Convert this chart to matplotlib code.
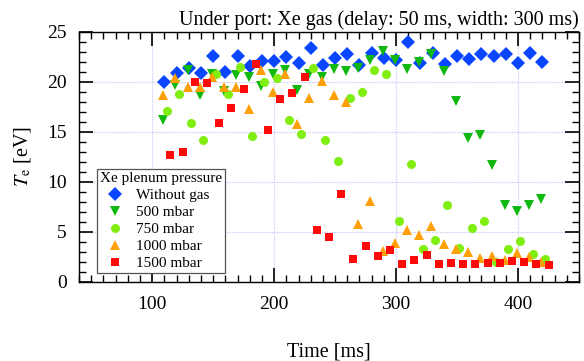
import matplotlib
matplotlib.use("Agg")
import matplotlib.pyplot as plt
from matplotlib.ticker import MultipleLocator

plt.rcParams['font.family'] = ['Liberation Serif', 'DejaVu Serif']
plt.rcParams['mathtext.fontset'] = 'stix'

title = "Under port: Xe gas (delay: 50 ms, width: 300 ms)"
legend_title = "Xe plenum pressure"
labels = ["Without gas", "500 mbar", "750 mbar", "1000 mbar", "1500 mbar"]

t_without = [110, 120, 130, 140, 150, 160, 170, 180, 190, 200, 210, 220, 230, 240, 250, 260,
             270, 280, 290, 300, 310, 320, 330, 340, 350, 360, 370, 380, 390, 400, 410, 420]
te_without = [20.0, 20.9, 21.4, 20.9, 22.6, 21.0, 22.6, 21.6, 22.1, 22.1, 22.5, 21.9, 23.4, 21.7, 22.4, 22.8,
              21.7, 22.9, 22.4, 22.2, 24.0, 21.9, 22.9, 21.8, 22.6, 22.3, 22.8, 22.6, 22.8, 21.9, 22.9, 22.0]

t_500 = [109, 119, 129, 139, 149, 159, 169, 179, 189, 199, 209, 219, 229, 239, 249, 259,
         269, 279, 289, 299, 309, 319, 329, 339, 349, 359, 369, 379, 389, 399, 409, 419]
te_500 = [16.2, 19.7, 21.2, 18.7, 20.8, 19.1, 20.7, 20.5, 19.6, 20.8, 21.2, 19.2, 20.8, 20.5, 21.3, 21.1,
          21.4, 22.2, 23.1, 22.2, 21.3, 22.0, 22.8, 21.1, 18.1, 14.4, 14.7, 11.7, 7.7, 7.1, 7.7, 8.3]

t_750 = [112, 122, 132, 142, 152, 162, 172, 182, 192, 202, 212, 222, 232, 242, 252, 262,
         272, 282, 292, 302, 312, 322, 332, 342, 352, 362, 372, 382, 392, 402, 412, 422]
te_750 = [17.1, 18.8, 15.9, 14.2, 20.8, 18.8, 21.5, 14.6, 20.0, 20.4, 16.2, 14.8, 21.4, 14.2, 12.1, 18.4,
          19.0, 21.2, 20.8, 6.1, 11.8, 3.3, 4.2, 7.7, 3.4, 5.4, 6.1, 2.0, 3.3, 4.1, 2.8, 2.3]

t_1000 = [109, 119, 129, 139, 149, 159, 169, 179, 189, 199, 209, 219, 229, 239, 249, 259,
          269, 279, 289, 299, 309, 319, 329, 339, 349, 359, 369, 379, 389, 399, 409, 419]
te_1000 = [18.7, 20.4, 19.5, 19.5, 20.5, 19.5, 19.5, 17.3, 21.2, 19.0, 20.8, 15.8, 18.4, 20.1, 18.7, 18.0,
           5.8, 8.1, 3.1, 3.9, 5.2, 4.7, 5.6, 3.8, 3.3, 3.0, 2.4, 2.6, 2.2, 2.9, 2.5, 2.0]

t_1500 = [115, 125, 135, 145, 155, 165, 175, 185, 195, 205, 215, 225, 235, 245, 255, 265,
          275, 285, 295, 305, 315, 325, 335, 345, 355, 365, 375, 385, 395, 405, 415, 425]
te_1500 = [12.7, 13.0, 20.0, 19.9, 15.9, 17.4, 19.3, 21.8, 15.2, 18.3, 18.9, 20.5, 5.2, 4.5, 8.8, 2.3,
           3.6, 2.6, 3.2, 1.8, 2.2, 2.7, 1.8, 1.9, 1.8, 1.8, 1.9, 1.9, 2.1, 2.0, 1.8, 1.7]

series = [
    (t_without, te_without, 'D', '#0a46ff', 7.0),
    (t_500, te_500, 'v', '#10b810', 7.0),
    (t_750, te_750, 'o', '#80ee10', 6.5),
    (t_1000, te_1000, '^', '#ffa008', 7.0),
    (t_1500, te_1500, 's', '#ff0a0a', 6.3),
]

fig = plt.figure(figsize=(5.84, 3.61), dpi=100)
ax = fig.add_axes([79 / 584, 1 - 282 / 361, 500 / 584, 250 / 361])

for (t, te, m, c, ms), lab in zip(series, labels):
    ax.plot(t, te, linestyle='none', marker=m, color=c, markersize=ms,
            markeredgewidth=0, label=lab)

ax.set_xlim(40, 450)
ax.set_ylim(0, 25)
ax.xaxis.set_major_locator(MultipleLocator(100))
ax.xaxis.set_minor_locator(MultipleLocator(10))
ax.yaxis.set_major_locator(MultipleLocator(5))
ax.yaxis.set_minor_locator(MultipleLocator(1))
ax.tick_params(which='both', direction='in', top=True, right=True, labelsize=14, colors='black')
ax.tick_params(which='major', length=10, width=1.2, pad=10)
ax.tick_params(which='minor', length=5, width=1.0)
ax.tick_params(axis='y', which='major', pad=9)
ax.grid(which='major', color='#c8c8f8', linestyle=(0, (1, 1)), linewidth=0.9)
ax.set_axisbelow(True)
for s in ax.spines.values():
    s.set_linewidth(1.0)

ax.set_xlabel("Time [ms]", fontsize=14.5, labelpad=21)
ax.set_ylabel(r"$T_\mathrm{e}$ [eV]", fontsize=14.5, labelpad=10)
ax.set_title(title, fontsize=14.5, loc='right', pad=5)

leg = ax.legend(title=legend_title, loc='lower left', bbox_to_anchor=(0.035, 0.035),
                borderaxespad=0, fontsize=11, title_fontsize=11, frameon=True,
                fancybox=False, edgecolor='#555555', framealpha=1, borderpad=0.2,
                labelspacing=0.22, handletextpad=0.4, handlelength=2.0)
leg._legend_box.align = 'left'
leg.get_frame().set_linewidth(0.9)

fig.savefig("out.png", dpi=100)
